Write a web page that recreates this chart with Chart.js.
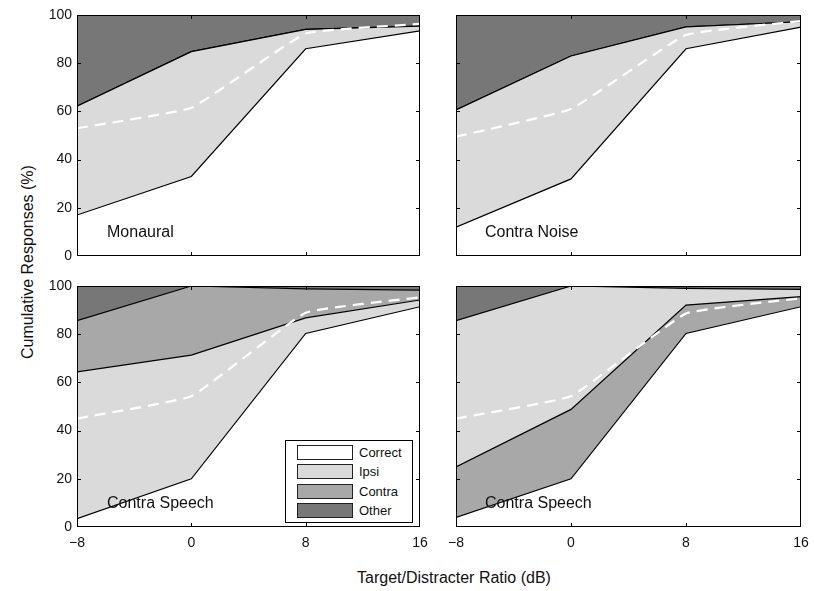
<!DOCTYPE html>
<html lang="en">
<head>
  <meta charset="UTF-8" />
  <title>Cumulative Responses</title>
  <script src="https://cdn.jsdelivr.net/npm/chart.js"></script>
  <style>
    body {
      margin: 0;
      width: 814px;
      height: 591px;
      background: #fff;
      font-family: 'Liberation Sans', Arial, sans-serif;
      color: #111;
      position: relative;
      overflow: hidden;
    }
    canvas { position: absolute; }
    .lbl {
      position: absolute;
      font-size: 16px;
      white-space: nowrap;
    }
    #ytitle {
      position: absolute;
      left: 28px;
      top: 262px;
      font-size: 16px;
      white-space: nowrap;
      transform: translate(-50%, -50%) rotate(-90deg);
    }
    #xtitle {
      position: absolute;
      left: 454px;
      top: 578px;
      font-size: 16px;
      white-space: nowrap;
      transform: translate(-50%, -50%);
    }
    #legend {
      position: absolute;
      left: 285px;
      top: 440px;
      width: 126px;
      height: 81px;
      border: 1px solid #000;
      background: #fff;
      font-size: 13px;
    }
    #legend div {
      position: absolute;
      left: 11px;
      height: 19px;
      line-height: 15px;
    }
    #legend span {
      display: inline-block;
      width: 54px;
      height: 13px;
      border: 1px solid #222;
      vertical-align: top;
      margin-right: 6px;
    }
  </style>
</head>
<body>
  <div id="ytitle">Cumulative Responses (%)</div>
  <div id="xtitle">Target/Distracter Ratio (dB)</div>

  <script>
    // target/distracter ratio (dB)
    const tdr = [-8, 0, 8, 16];
    const yTicks = [0, 20, 40, 60, 80, 100];

    // percent of responses in each category
    const monauralCorrect = [17, 33, 86, 93.4];
    const monauralIpsi    = [45.2, 51.8, 8, 2];
    const monauralContra  = [0, 0, 0, 0];
    const monauralOther   = [37.8, 15.2, 6, 4.6];
    const monauralFit     = [53, 61.5, 92.3, 96.3];

    const noiseCorrect = [12, 32, 86, 95];
    const noiseIpsi    = [48.6, 51, 9.1, 2.2];
    const noiseContra  = [0, 0, 0, 0];
    const noiseOther   = [39.4, 17, 4.9, 2.8];
    const noiseFit     = [49.5, 61, 91.7, 97.5];

    const speechACorrect = [3.5, 20, 80.3, 91.4];
    const speechAIpsi    = [60.9, 51.3, 6.5, 2.8];
    const speechAContra  = [21.2, 28.7, 12, 4.1];
    const speechAOther   = [14.4, 0, 1.2, 1.7];
    const speechAFit     = [45, 54.3, 88.9, 95.3];

    const speechBCorrect = [4, 20, 80.3, 91.4];
    const speechBContra  = [20.9, 28.8, 11.8, 4.2];
    const speechBIpsi    = [60.7, 51.2, 6.9, 3];
    const speechBOther   = [14.4, 0, 1, 1.4];
    const speechBFit     = [45, 54.3, 88.6, 94.9];

    const colors = { Correct: '#ffffff', Ipsi: '#dadada', Contra: '#a8a8a8', Other: '#777777' };

    const panels = [
      { name: 'Monaural', col: 0, row: 0, fit: monauralFit,
        stack: [['Correct', monauralCorrect], ['Ipsi', monauralIpsi], ['Contra', monauralContra], ['Other', monauralOther]] },
      { name: 'Contra Noise', col: 1, row: 0, fit: noiseFit,
        stack: [['Correct', noiseCorrect], ['Ipsi', noiseIpsi], ['Contra', noiseContra], ['Other', noiseOther]] },
      { name: 'Contra Speech', col: 0, row: 1, fit: speechAFit,
        stack: [['Correct', speechACorrect], ['Ipsi', speechAIpsi], ['Contra', speechAContra], ['Other', speechAOther]] },
      { name: 'Contra Speech', col: 1, row: 1, fit: speechBFit,
        stack: [['Correct', speechBCorrect], ['Contra', speechBContra], ['Ipsi', speechBIpsi], ['Other', speechBOther]] }
    ];

    // plot area geometry
    const plotLeft = [77, 456];
    const plotWidth = [343, 345];
    const plotTop = [15, 286];
    const plotHeight = 241;
    const yAxisW = 40, xAxisH = 30, padTop = 10, padRight = 10;

    const pts = arr => arr.map((v, i) => ({ x: tdr[i], y: v }));

    const framePlugin = {
      id: 'frame',
      afterDatasetsDraw(chart) {
        const { ctx, chartArea: a, scales: { x, y } } = chart;
        ctx.save();
        ctx.strokeStyle = '#000';
        ctx.lineWidth = 1;
        ctx.strokeRect(a.left + 0.5, a.top + 0.5, a.width - 1, a.height - 1);
        ctx.beginPath();
        tdr.slice(1, -1).forEach(v => {
          const px = Math.round(x.getPixelForValue(v)) + 0.5;
          ctx.moveTo(px, a.bottom); ctx.lineTo(px, a.bottom - 4);
          ctx.moveTo(px, a.top); ctx.lineTo(px, a.top + 4);
        });
        yTicks.slice(1, -1).forEach(v => {
          const py = Math.round(y.getPixelForValue(v)) + 0.5;
          ctx.moveTo(a.left, py); ctx.lineTo(a.left + 4, py);
          ctx.moveTo(a.right, py); ctx.lineTo(a.right - 4, py);
        });
        ctx.stroke();
        ctx.restore();
      }
    };

    panels.forEach(p => {
      const canvas = document.createElement('canvas');
      const w = plotWidth[p.col] + yAxisW + padRight;
      const h = plotHeight + padTop + xAxisH;
      canvas.width = w;
      canvas.height = h;
      canvas.style.left = (plotLeft[p.col] - yAxisW) + 'px';
      canvas.style.top = (plotTop[p.row] - padTop) + 'px';
      document.body.appendChild(canvas);

      const datasets = [{
        label: 'fit',
        data: pts(p.fit),
        stack: 'fit',
        borderColor: '#ffffff',
        borderWidth: 2.2,
        borderDash: [11, 7],
        tension: 0.1,
        fill: false,
        pointRadius: 0
      }];
      p.stack.forEach(([cat, vals], i) => {
        datasets.push({
          label: cat,
          data: pts(vals),
          stack: 'resp',
          borderColor: '#000',
          borderWidth: 1.2,
          backgroundColor: colors[cat],
          fill: i === 0 ? 'origin' : '-1',
          pointRadius: 0,
          tension: 0
        });
      });

      new Chart(canvas, {
        type: 'line',
        data: { datasets },
        plugins: [framePlugin],
        options: {
          responsive: false,
          animation: false,
          devicePixelRatio: 1,
          layout: { padding: { left: 0, top: padTop, right: padRight, bottom: 0 } },
          plugins: { legend: { display: false }, tooltip: { enabled: false } },
          scales: {
            x: {
              type: 'linear',
              min: -8, max: 16,
              afterFit: s => { s.height = xAxisH; s.paddingLeft = 0; s.paddingRight = 0; },
              afterBuildTicks: s => { s.ticks = tdr.map(v => ({ value: v })); },
              grid: { display: false, drawTicks: false },
              border: { display: false },
              ticks: {
                display: p.row === 1,
                padding: 8,
                color: '#111',
                font: { family: "'Liberation Sans', Arial, sans-serif", size: 14 },
                callback: v => String(v).replace('-', '\u2212')
              }
            },
            y: {
              stacked: true,
              min: 0, max: 100,
              afterFit: s => { s.width = yAxisW; s.paddingTop = 0; s.paddingBottom = 0; },
              afterBuildTicks: s => { s.ticks = yTicks.map(v => ({ value: v })); },
              grid: { display: false, drawTicks: false },
              border: { display: false },
              ticks: {
                display: p.col === 0,
                padding: 5,
                color: '#111',
                font: { family: "'Liberation Sans', Arial, sans-serif", size: 14 }
              }
            }
          }
        }
      });

      const lbl = document.createElement('div');
      lbl.className = 'lbl';
      lbl.textContent = p.name;
      lbl.style.left = (plotLeft[p.col] + (p.col === 0 ? 30 : 29)) + 'px';
      lbl.style.top = (plotTop[p.row] + 208) + 'px';
      document.body.appendChild(lbl);
    });

    // legend inside the lower-left panel
    const legendNames = ['Correct', 'Ipsi', 'Contra', 'Other'];
    const legend = document.createElement('div');
    legend.id = 'legend';
    legendNames.forEach((n, i) => {
      const row = document.createElement('div');
      row.style.top = (4 + i * 19.3) + 'px';
      const sw = document.createElement('span');
      sw.style.background = colors[n];
      row.appendChild(sw);
      row.appendChild(document.createTextNode(n));
      legend.appendChild(row);
    });
    document.body.appendChild(legend);
  </script>
</body>
</html>
